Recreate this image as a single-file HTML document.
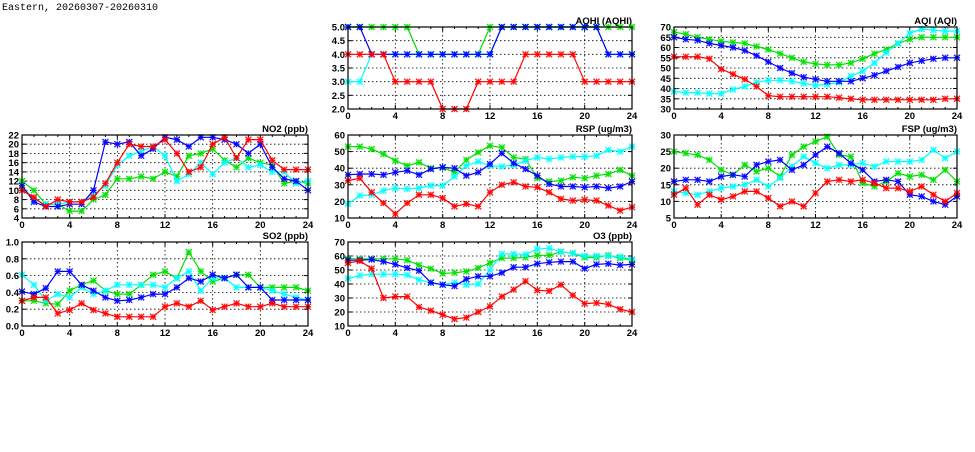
<!DOCTYPE html>
<html><head><meta charset="utf-8"><style>
body{margin:0;background:#fff;width:975px;height:447px;overflow:hidden}
svg text{font-family:"Liberation Sans",sans-serif;font-weight:bold;font-size:9.5px;fill:#000}
</style></head><body>
<svg id="s" width="975" height="447" xmlns="http://www.w3.org/2000/svg">
<text x="2" y="10" style="font-family:'Liberation Mono',monospace;font-size:10px;font-weight:normal">Eastern, 20260307-20260310</text>
</svg>
<script>
var P=[
{t:"AQHI (AQHI)",x0:348,x1:632,y0:27,y1:109,min:2,max:5,step:0.5,dec:1,d:{
g:[5,5,5,5,5,5,4,4,4,4,4,4,5,5,5,5,5,5,5,5,5,5,5,5,5],
c:[3,3,4,4,4,4,4,4,4,4,4,4,4,5,5,5,5,5,5,5,5,5,4,4,4],
b:[5,5,4,4,4,4,4,4,4,4,4,4,4,5,5,5,5,5,5,5,5,5,4,4,4],
r:[4,4,4,4,3,3,3,3,2,2,2,3,3,3,3,4,4,4,4,4,3,3,3,3,3]}},
{t:"AQI (AQI)",x0:674,x1:957,y0:27,y1:109,min:30,max:70,step:5,dec:0,d:{
g:[67.5,66.5,65,64,63,62.5,62,60.5,59,57,55,53,52,51.5,51.5,52.5,54.5,57,59,62,64,65,65,65,65],
c:[38.5,38,38,37.5,37.5,39.5,41,43,44,44,43.5,42.5,41.5,42,43,46,48.5,52.5,57.5,62,67,69,68.5,68,68],
b:[65,64,63.5,62,61,60,58.5,56,53,50,47.5,45.5,44.5,43.5,43.5,43.5,45,46.5,48.5,50.5,52.5,53.5,54.5,55,55],
r:[55.5,55.5,55.5,54.5,49.5,47,44.5,41,36.5,36,36,36,36,36,35.5,35,34.5,34.5,34.5,34.5,34.5,34.5,34.5,35,35]}},
{t:"NO2 (ppb)",x0:22,x1:308,y0:135,y1:218,min:4,max:22,step:2,dec:0,d:{
g:[12,10,7,7,5.5,5.5,8,9,12.5,12.5,13,12.5,14,13,17.5,18,19,16.5,15,17,16,15.5,11.5,12,11.5],
c:[11,8,7,7,7.5,7.5,9,11,15.5,17.5,18.5,19.5,17.5,12,13.5,16,13.5,16,17,15,15.5,14,14,11.5,12],
b:[11,7.5,6.5,6.5,7,7,10,20.5,20,20.5,17.5,19,21.5,21,19.5,21.5,21.5,21,20,18,20,15,12.5,12,10],
r:[10,8.5,6.5,8,7.5,7.5,8.5,11.5,16,20,19.5,19.5,21,18,14,15,20,21.5,17,21,21,16.5,14.5,14.5,14.5]}},
{t:"RSP (ug/m3)",x0:348,x1:632,y0:135,y1:218,min:10,max:60,step:10,dec:0,d:{
g:[53,53,51.5,48.5,44.5,41.5,43.5,40,40.5,37.5,45,49.5,53.5,52.5,46.5,45.5,34,32,32.5,34.5,34,35.5,36.5,39,35.5],
c:[18.5,23.5,24,26.5,28,27.5,28,29.5,29.5,35,41.5,44,41.5,41,42,44.5,46.5,45.5,46.5,47,47,47.5,51,50,53],
b:[36,36.5,36.5,36,37.5,38.5,36,39.5,40.5,40,35.5,37.5,42.5,49,43,39.5,35.5,30.5,29,29,28.5,29,28,29,32],
r:[32.5,34,25.5,19,12.5,19,24,24,22,17,18.5,17,25.5,30,31.5,29,28.5,25.5,21.5,20.5,21,20.5,17.5,14.5,16.5]}},
{t:"FSP (ug/m3)",x0:674,x1:957,y0:135,y1:218,min:5,max:30,step:5,dec:0,d:{
g:[25,24.5,24,22.5,19.5,18,21,19,20,17.5,24,26.5,28,29.5,24,23.5,15.5,14.5,16,18.5,17.5,18,16.5,19.5,16],
c:[13,12.5,12,13,14,14.5,15,16.5,14.5,17,20.5,23.5,21.5,20,21,21,21.5,20.5,22,22,22,22.5,25.5,23,25],
b:[16,16.5,16.5,16,17.5,18,17.5,21,22,22.5,19.5,21,24,26.5,24.5,21.5,19.5,16,16.5,16,12,11.5,10,9,11.5],
r:[12,14,9,12,10.5,11.5,13,13,11,8.5,10,8.5,12.5,16,16.5,16,16.5,15.5,14,14,13,14.5,12,10,12.5]}},
{t:"SO2 (ppb)",x0:22,x1:308,y0:242,y1:326,min:0,max:1,step:0.2,dec:1,d:{
g:[.30,.30,.27,.26,.42,.49,.54,.42,.38,.38,.49,.61,.65,.57,.88,.65,.53,.57,.61,.61,.46,.46,.46,.46,.42],
c:[.61,.49,.30,.38,.34,.46,.38,.42,.49,.49,.49,.49,.46,.57,.65,.42,.57,.57,.46,.46,.46,.42,.38,.34,.31],
b:[.41,.38,.45,.65,.65,.49,.42,.34,.30,.31,.34,.38,.38,.46,.57,.53,.61,.57,.61,.46,.46,.31,.31,.31,.31],
r:[.30,.34,.34,.15,.19,.27,.19,.15,.11,.11,.11,.11,.23,.27,.23,.30,.19,.23,.27,.23,.23,.27,.23,.23,.23]}},
{t:"O3 (ppb)",x0:348,x1:632,y0:242,y1:326,min:10,max:70,step:10,dec:0,d:{
g:[58,58,58,58,58,57,53.5,51,47.5,48,49,51.5,55,58.5,58.5,59,60.5,60.5,63,62,59,59,60.5,58.5,57],
c:[44,46,47,47,47,46.5,43,41,39.5,41,39.5,40,50,61.5,61.5,61,65,65.5,63,62,60,60,60,59.5,57.5],
b:[57,57,57.5,56,54,51.5,49.5,41,39.5,38.5,43.5,45.5,45.5,48,52,52,54.5,55.5,56,56,51,54,54.5,53.5,54],
r:[55,56.5,51,30,31,31,23.5,21,18,15,16,20,24,31,36,42,35.5,35,39.5,32,26,26.5,25.5,22,20]}}
];
var col={g:"#00e000",c:"#00ffff",b:"#0000ff",r:"#ff0000"};
var h='';
P.forEach(function(p){
 var W=p.x1-p.x0,H=p.y1-p.y0;
 function X(i){return p.x0+W*i/24}
 function Y(v){return p.y1-H*(v-p.min)/(p.max-p.min)}
 var n=Math.round((p.max-p.min)/p.step);
 for(var k=0;k<=n;k++){var v=p.min+k*p.step,y=Y(v).toFixed(1);
  if(k>0&&k<n)h+='<line x1="'+p.x0+'" x2="'+p.x1+'" y1="'+y+'" y2="'+y+'" stroke="#000" stroke-width="0.8" stroke-dasharray="1.5,2.5"/>';
  h+='<line x1="'+p.x0+'" x2="'+(p.x0+4)+'" y1="'+y+'" y2="'+y+'" stroke="#000"/><line x1="'+p.x1+'" x2="'+(p.x1-4)+'" y1="'+y+'" y2="'+y+'" stroke="#000"/>';
  h+='<text x="'+(p.x0-3)+'" y="'+(+y+3.5)+'" text-anchor="end">'+v.toFixed(p.dec)+'</text>';}
 for(var i=0;i<=24;i++){var x=X(i).toFixed(1),L=i%4==0?4:2;
  if(i%4==0&&i>0&&i<24)h+='<line x1="'+x+'" x2="'+x+'" y1="'+p.y0+'" y2="'+p.y1+'" stroke="#000" stroke-width="0.8" stroke-dasharray="1.5,2.5"/>';
  h+='<line x1="'+x+'" x2="'+x+'" y1="'+p.y1+'" y2="'+(p.y1-L)+'" stroke="#000"/><line x1="'+x+'" x2="'+x+'" y1="'+p.y0+'" y2="'+(p.y0+L)+'" stroke="#000"/>';
  if(i%4==0)h+='<text x="'+x+'" y="'+(p.y1+10)+'" text-anchor="middle">'+i+'</text>';}
 h+='<text x="'+p.x1+'" y="'+(p.y0-3)+'" text-anchor="end">'+p.t+'</text>';
 ["g","c","b","r"].forEach(function(s){var a=p.d[s],pts=a.map(function(v,i){return X(i).toFixed(1)+','+Y(v).toFixed(1)}).join(' ');
  h+='<polyline points="'+pts+'" fill="none" stroke="'+col[s]+'" stroke-width="1.2"/>';
  a.forEach(function(v,i){var x=X(i),y=Y(v),r=3;
   h+='<path d="M'+(x-r)+' '+(y-r)+'L'+(x+r)+' '+(y+r)+'M'+(x-r)+' '+(y+r)+'L'+(x+r)+' '+(y-r)+'M'+(x-r)+' '+y+'L'+(x+r)+' '+y+'M'+x+' '+(y-r)+'L'+x+' '+(y+r)+'" stroke="'+col[s]+'" stroke-width="1.3" stroke-opacity="0.9"/>';});});
 h+='<rect x="'+p.x0+'" y="'+p.y0+'" width="'+W+'" height="'+H+'" fill="none" stroke="#000" stroke-width="1.2"/>';
});
document.getElementById('s').insertAdjacentHTML('beforeend',h);
</script>
</body></html>
